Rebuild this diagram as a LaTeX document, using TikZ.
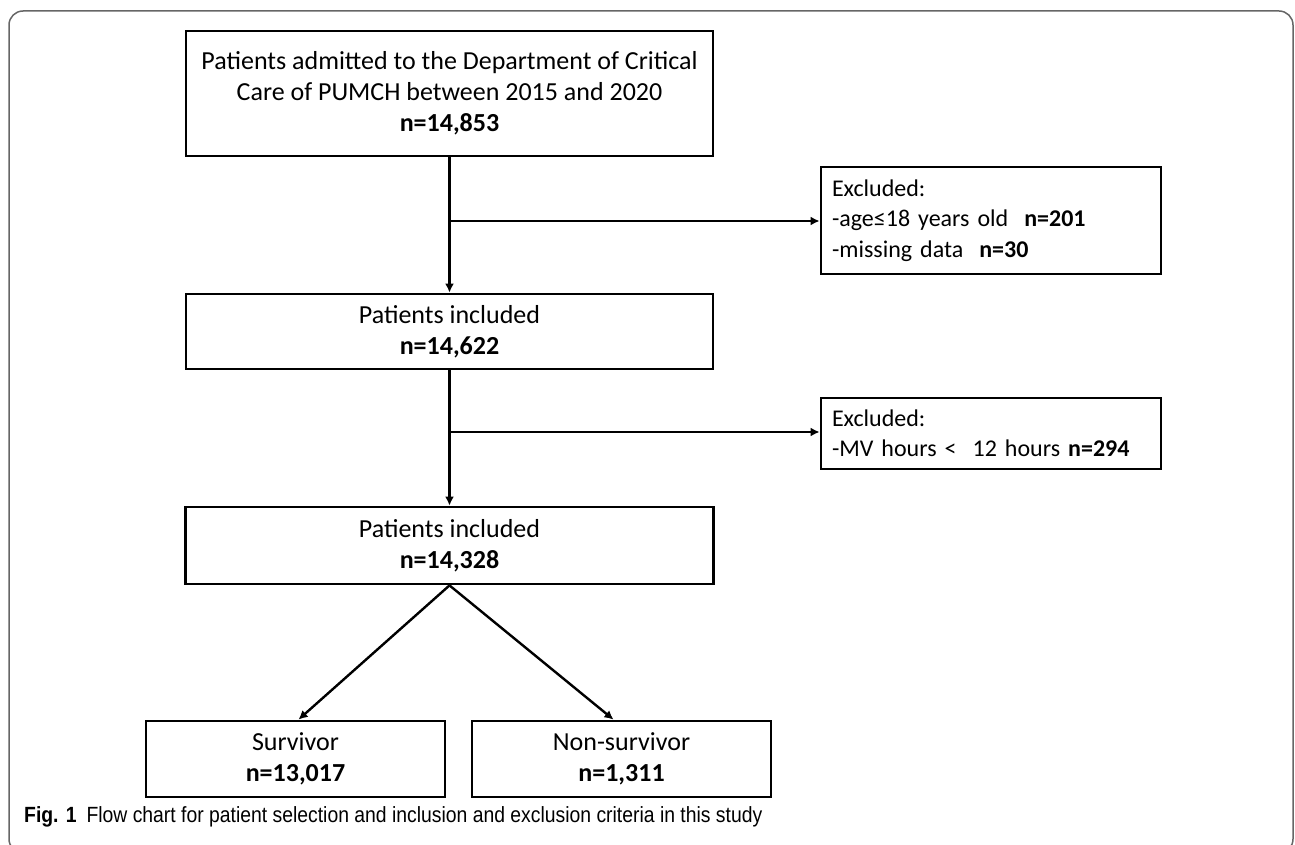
\documentclass[tikz,border=0pt]{standalone}
\usepackage{fontspec}
\setmainfont{Carlito}
\newfontfamily\capfont[FakeStretch=0.88]{Liberation Sans}
\usetikzlibrary{arrows.meta}
\begin{document}
\begin{tikzpicture}[x=1pt,y=-1pt,
  box/.style={draw, line width=2.8pt, inner sep=0pt, align=center,
    font=\fontsize{26}{31}\selectfont},
  exbox/.style={draw, line width=2.8pt, inner ysep=0pt, inner xsep=11pt,
    align=left, text width=318pt, font=\fontsize{24}{30.5}\selectfont},
  conn/.style={line width=2.4pt, -{Latex[length=9pt,width=9pt]}},
  frame/.style={draw=black!60, line width=1.5pt, rounded corners=14pt}
  ]
\useasboundingbox (0,0) rectangle (1295,845);
\draw[frame] (9,11) rectangle (1293,853);

\node[box, minimum width=527pt, minimum height=125pt] (top) at (449.5,93.5)
  {Patients admitted to the Department of Critical\\Care of PUMCH between 2015 and 2020\\\textbf{n=14,853}};
\node[box, minimum width=527pt, minimum height=75pt] (inc1) at (449.5,331.5)
  {Patients included\\\textbf{n=14,622}};
\node[box, minimum width=528pt, minimum height=77pt] (inc2) at (449.5,545.5)
  {Patients included\\\textbf{n=14,328}};
\node[exbox, minimum height=107pt] (ex1) at (991,220.5)
  {Excluded:\\-age≤18 years old\ \ \textbf{n=201}\\-missing data\ \ \textbf{n=30}};
\node[exbox, minimum height=71pt] (ex2) at (991,433.5)
  {Excluded:\\\mbox{-MV hours <\ \ 12 hours \textbf{n=294}}};
\node[box, minimum width=299pt, minimum height=76pt] (surv) at (295.5,759)
  {Survivor\\\textbf{n=13,017}};
\node[box, minimum width=299pt, minimum height=76pt] (nons) at (621.5,759)
  {Non-survivor\\\textbf{n=1,311}};

\coordinate (b1) at (449.5,221);
\coordinate (b2) at (449.5,432);
\draw[conn] (top.south) -- (inc1.north);
\draw[conn] (inc1.south) -- (inc2.north);
\draw[conn] (b1) -- (b1 -| ex1.west);
\draw[conn] (b2) -- (b2 -| ex2.west);
\draw[conn] (inc2.south) -- ([xshift=3pt]surv.north);
\draw[conn] (inc2.south) -- ([xshift=-8pt]nons.north);

\node[anchor=west, inner sep=0pt, font=\capfont\fontsize{22}{26}\selectfont] (cap) at (24,817)
  {\textbf{Fig. 1}\hspace{10pt}Flow chart for patient selection and inclusion and exclusion criteria in this study};
\end{tikzpicture}
\end{document}
